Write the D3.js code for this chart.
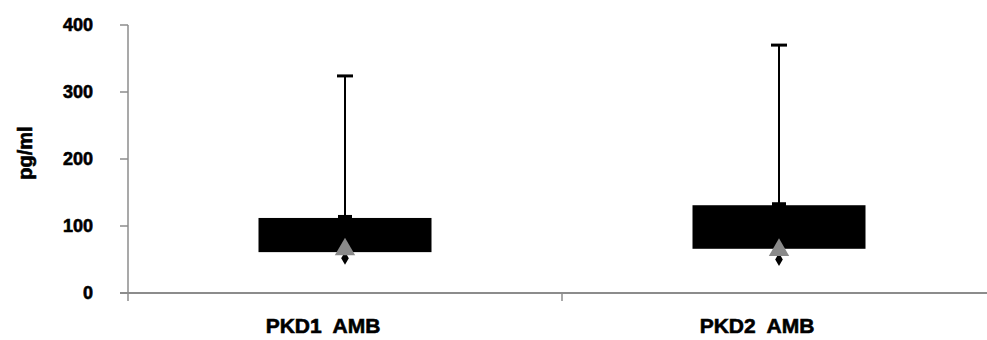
<!DOCTYPE html>
<html>
<head>
<meta charset="utf-8">
<script src="https://cdn.jsdelivr.net/npm/d3@7"></script>
<style>
  body { margin: 0; background: #fff; }
  text { font-family: "Liberation Sans", Arial, sans-serif; font-weight: bold; fill: #000; stroke: #000; stroke-width: 0.6; }
</style>
</head>
<body>
<div id="chart"></div>
<script>
const categories = ['PKD1 AMB', 'PKD2 AMB'];
const boxLow = [61, 66];
const boxHigh = [112, 131];
const whiskerTop = [324, 370];
const meanValues = [65, 64];
const minValues = [52, 50];
const yTicks = [0, 100, 200, 300, 400];

const width = 987;
const height = 340;

const svg = d3.select('#chart')
    .append('svg')
    .attr('width', width)
    .attr('height', height);

const x = d3.scaleBand()
    .domain(categories)
    .range([128, 996]);

const y = d3.scaleLinear()
    .domain([0, 400])
    .range([293, 25]);

const axisColor = '#8c8c8c';

// y axis
svg.append('line')
    .attr('x1', 128).attr('x2', 128)
    .attr('y1', y(400)).attr('y2', y(0) + 8)
    .attr('stroke', axisColor).attr('stroke-width', 1.5);

svg.selectAll('.ytick')
    .data(yTicks)
    .enter().append('line')
    .attr('x1', 120).attr('x2', 128)
    .attr('y1', d => y(d)).attr('y2', d => y(d))
    .attr('stroke', axisColor).attr('stroke-width', 1.5);

svg.selectAll('.ylabel')
    .data(yTicks)
    .enter().append('text')
    .attr('x', 93)
    .attr('y', d => y(d))
    .attr('dy', '0.35em')
    .attr('text-anchor', 'end')
    .attr('font-size', 18)
    .text(d => d);

svg.append('text')
    .attr('transform', `translate(32,${(y(0) + y(400)) / 2 - 6}) rotate(-90)`)
    .attr('text-anchor', 'middle')
    .attr('font-size', 20)
    .text('pg/ml');

// x axis
svg.append('line')
    .attr('x1', 120).attr('x2', width)
    .attr('y1', y(0)).attr('y2', y(0))
    .attr('stroke', axisColor).attr('stroke-width', 2);

svg.append('line')
    .attr('x1', x(categories[1])).attr('x2', x(categories[1]))
    .attr('y1', y(0)).attr('y2', y(0) + 8)
    .attr('stroke', axisColor).attr('stroke-width', 1.5);

svg.selectAll('.xlabel')
    .data(categories)
    .enter().append('text')
    .attr('x', d => x(d) + x.bandwidth() / 2 - 22)
    .attr('y', 333)
    .attr('text-anchor', 'middle')
    .attr('font-size', 21)
    .attr('xml:space', 'preserve')
    .text(d => d.replace(' ', '  '));

const boxWidth = 173;
const g = svg.selectAll('.box')
    .data(categories.map((c, i) => ({ c, i })))
    .enter().append('g');

// whiskers
g.append('line')
    .attr('x1', d => x(d.c) + x.bandwidth() / 2)
    .attr('x2', d => x(d.c) + x.bandwidth() / 2)
    .attr('y1', d => y(whiskerTop[d.i]))
    .attr('y2', d => y(boxHigh[d.i]))
    .attr('stroke', '#000').attr('stroke-width', 2);

g.append('line')
    .attr('x1', d => x(d.c) + x.bandwidth() / 2 - 8)
    .attr('x2', d => x(d.c) + x.bandwidth() / 2 + 8)
    .attr('y1', d => y(whiskerTop[d.i]))
    .attr('y2', d => y(whiskerTop[d.i]))
    .attr('stroke', '#000').attr('stroke-width', 3);

// boxes
g.append('rect')
    .attr('x', d => x(d.c) + x.bandwidth() / 2 - boxWidth / 2)
    .attr('width', boxWidth)
    .attr('y', d => y(boxHigh[d.i]))
    .attr('height', d => y(boxLow[d.i]) - y(boxHigh[d.i]))
    .attr('fill', '#000');

// marker at box top
g.append('rect')
    .attr('x', d => x(d.c) + x.bandwidth() / 2 - 7)
    .attr('width', 14)
    .attr('y', d => y(boxHigh[d.i]) - 3)
    .attr('height', 4)
    .attr('fill', '#000');

// min markers
g.append('path')
    .attr('d', d3.symbol(d3.symbolDiamond, 50))
    .attr('transform', d => `translate(${x(d.c) + x.bandwidth() / 2},${y(minValues[d.i])})`)
    .attr('fill', '#000');

// mean markers
g.append('path')
    .attr('d', d3.symbol(d3.symbolTriangle, 180))
    .attr('transform', d => `translate(${x(d.c) + x.bandwidth() / 2},${y(meanValues[d.i])})`)
    .attr('fill', '#8a8a8a');
</script>
</body>
</html>
